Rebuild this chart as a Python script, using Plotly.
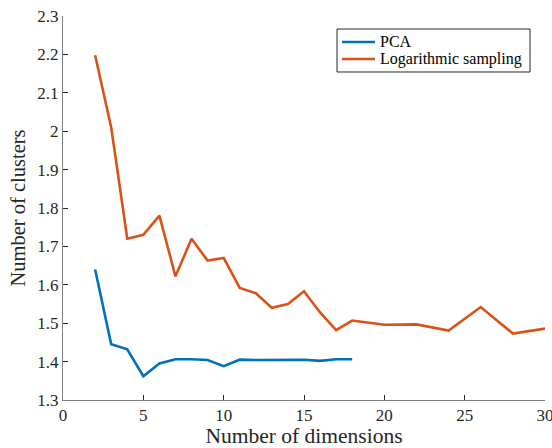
import plotly.graph_objects as go

pca_x = [2, 3, 4, 5, 6, 7, 8, 9, 10, 11, 12, 13, 14, 15, 16, 17, 18]
pca_y = [1.64, 1.445, 1.432, 1.362, 1.395, 1.406, 1.406, 1.404, 1.388, 1.405,
         1.404, 1.404, 1.405, 1.405, 1.402, 1.406, 1.406]

log_x = [2, 3, 4, 5, 6, 7, 8, 9, 10, 11, 12, 13, 14, 15, 16, 17, 18, 20, 22, 24, 26, 28, 30]
log_y = [2.198, 2.01, 1.72, 1.73, 1.78, 1.622, 1.72, 1.663, 1.67, 1.592, 1.578, 1.54,
         1.55, 1.583, 1.528, 1.482, 1.507, 1.496, 1.497, 1.481, 1.542, 1.473, 1.486]

x_ticks = [0, 5, 10, 15, 20, 25, 30]
y_ticks = [1.3, 1.4, 1.5, 1.6, 1.7, 1.8, 1.9, 2.0, 2.1, 2.2, 2.3]
y_tick_text = ["1.3", "1.4", "1.5", "1.6", "1.7", "1.8", "1.9", "2", "2.1", "2.2", "2.3"]

series_names = ["PCA", "Logarithmic sampling"]
series_colors = ["#0072BD", "#D95319"]

font = "Liberation Serif"

fig = go.Figure()
fig.add_trace(go.Scatter(x=pca_x, y=pca_y, mode="lines", name=series_names[0],
                         line=dict(color=series_colors[0], width=2.6)))
fig.add_trace(go.Scatter(x=log_x, y=log_y, mode="lines", name=series_names[1],
                         line=dict(color=series_colors[1], width=2.6)))

# Manual legend (MATLAB-style compact box), in plot-area paper coordinates
box = dict(x0=0.5685, x1=0.9689, y0=0.8542, y1=0.9661)
entry_y = [0.9323, 0.888]
shapes = [dict(type="rect", xref="paper", yref="paper", **box,
               line=dict(color="#262626", width=1), fillcolor="white", layer="above")]
annotations = []
for name, color, yy in zip(series_names, series_colors, entry_y):
    shapes.append(dict(type="line", xref="paper", yref="paper", x0=0.5788, x1=0.6473,
                       y0=yy, y1=yy, line=dict(color=color, width=2.6), layer="above"))
    annotations.append(dict(text=name, xref="paper", yref="paper", x=0.6535, y=yy,
                            xanchor="left", yanchor="middle", showarrow=False,
                            font=dict(family=font, size=16, color="black")))

fig.update_layout(
    width=552, height=448,
    margin=dict(l=63, r=7, t=16, b=48, autoexpand=False),
    paper_bgcolor="white", plot_bgcolor="white",
    font=dict(family=font, size=16, color="#262626"),
    showlegend=False,
    shapes=shapes,
    annotations=annotations,
    xaxis=dict(range=[0, 30], tickvals=x_ticks, ticks="inside", ticklen=5,
               tickcolor="#262626", showline=True, linecolor="#808080", linewidth=1,
               showgrid=False, zeroline=False, ticklabeloverflow="allow", automargin=False,
               tickfont=dict(family=font, size=17, color="#262626"),
               title=dict(text="Number of dimensions", standoff=2,
                          font=dict(family=font, size=21.5, color="#262626"))),
    yaxis=dict(range=[1.3, 2.3], tickvals=y_ticks, ticktext=y_tick_text,
               ticks="inside", ticklen=5, tickcolor="#262626",
               showline=True, linecolor="#808080", linewidth=1,
               showgrid=False, zeroline=False, automargin=False,
               tickfont=dict(family=font, size=17, color="#262626"),
               title=dict(text="Number of clusters", standoff=6,
                          font=dict(family=font, size=20.5, color="#262626"))),
)

fig.write_html("out.html")
